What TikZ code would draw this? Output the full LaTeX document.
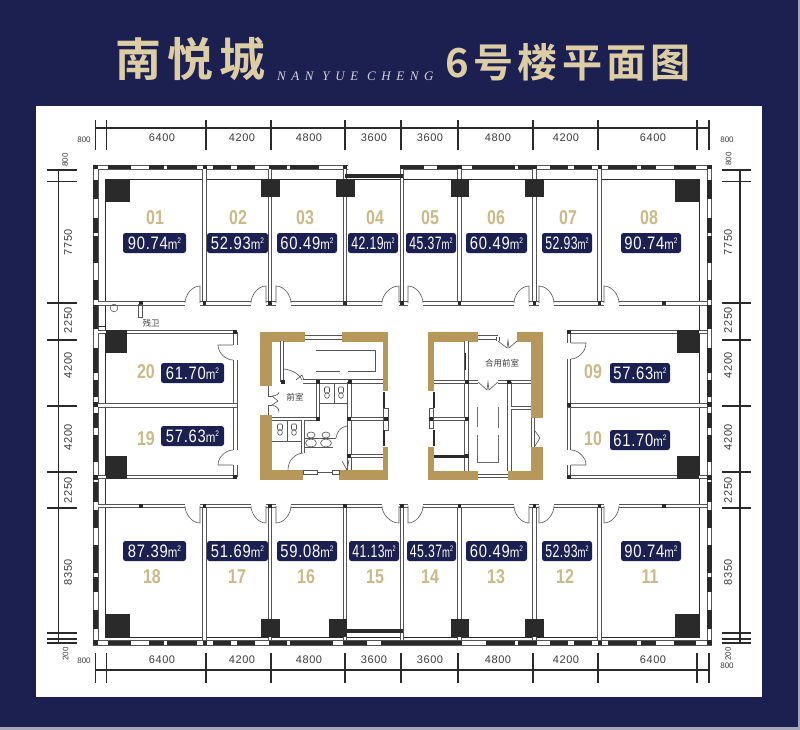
\documentclass[tikz,border=0pt]{standalone}
\usepackage{fontspec}
\setmainfont{Liberation Sans}
\newfontfamily\cjkf{Noto Sans CJK SC}
\newfontfamily\titlea[LetterSpace=13]{Noto Sans CJK SC Bold}
\newfontfamily\titleb[LetterSpace=11]{Noto Sans CJK SC Bold}
\newfontfamily\enf[LetterSpace=43,Ligatures=NoCommon]{Liberation Serif Italic}
\newfontfamily\dimf[LetterSpace=5]{Liberation Sans}
\newfontfamily\areaw[FakeStretch=0.82,LetterSpace=4]{Liberation Sans}
\newfontfamily\arean[FakeStretch=0.68,LetterSpace=2.5]{Liberation Sans}
\newfontfamily\numf[FakeStretch=0.8]{Liberation Sans Bold}
\definecolor{navy}{HTML}{1B2050}
\definecolor{gold}{HTML}{B8985A}
\definecolor{numgold}{HTML}{C9BA88}
\definecolor{titlegold}{HTML}{DCCDA5}
\definecolor{ink}{HTML}{2A2A2A}
\definecolor{wallg}{HTML}{555555}
\definecolor{dimc}{HTML}{3C3C3C}
\tikzset{
  wide/.style={fill=navy,text=white,rounded corners=2.5pt,inner sep=0pt,minimum height=20pt,font=\areaw\fontsize{18}{18}\selectfont},
  narrow/.style={wide,font=\arean\fontsize{18}{18}\selectfont},
  roomnum/.style={text=numgold,inner sep=0pt,font=\numf\fontsize{20}{20}\selectfont},
  dimtext/.style={text=dimc,inner sep=0pt,font=\dimf\fontsize{11}{11}\selectfont},
  smalldim/.style={text=dimc,inner sep=0pt,font=\fontsize{8}{8}\selectfont},
  dimline/.style={draw=ink,line width=1.1pt},
  wallface/.style={draw=wallg,line width=.7pt},
  thin line/.style={draw=wallg,line width=.6pt},
  doorline/.style={draw=wallg,line width=.6pt},
  column/.style={fill=ink,draw=none},
  dot/.style={fill=ink,draw=none},
  goldwall/.style={fill=gold,draw=none},
  blackwall/.style={fill=ink,draw=none},
  plantext/.style={text=dimc,inner sep=0pt,font=\cjkf\fontsize{8.5}{8.5}\selectfont},
}
\newcommand{\areatext}[1]{#1{\fontsize{14}{14}\selectfont m}\raisebox{5.5pt}{\fontsize{8}{8}\selectfont 2}}
% double wall faces: vertical (x, y1, y2) and horizontal (y, x1, x2)
\newcommand{\vwall}[3]{\fill[white] ({#1-1.5},#2) rectangle ({#1+1.5},#3); \draw[wallface] ({#1-1.7},#2)--({#1-1.7},#3) ({#1+1.7},#2)--({#1+1.7},#3);}
\newcommand{\hwall}[3]{\fill[white] (#2,{#1-1.5}) rectangle (#3,{#1+1.5}); \draw[wallface] (#2,{#1-1.7})--(#3,{#1-1.7}) (#2,{#1+1.7})--(#3,{#1+1.7});}
% hinge x, hinge y, arc dx, leaf dy
\newcommand{\doorq}[4]{\draw[doorline] (#1,#2)--(#1,{#2+#4}) .. controls ({#1+0.55*#3},{#2+#4}) and ({#1+#3},{#2+0.45*#4}) .. ({#1+#3},#2);}
% door on a vertical wall: wall x, hinge y, arc dy, leaf dx
\newcommand{\doorv}[4]{\draw[doorline] (#1,#2)--({#1+#4},#2) .. controls ({#1+#4},{#2+0.55*#3}) and ({#1+0.45*#4},{#2+#3}) .. (#1,{#2+#3});}
\newcommand{\pan}[2]{\path[dot] ({#1-1.8},{#2-1.8}) rectangle ({#1+1.8},{#2+1.8});}
\newcommand{\toilet}[2]{\draw[thin line,rounded corners=1pt] ({#1-2.5},{#2-5}) rectangle ({#1+2.5},{#2+1}); \draw[thin line] (#1,{#2+3.5}) ellipse (2.4 and 2.8);}
\begin{document}
\begin{tikzpicture}[x=1pt,y=-1pt]
\useasboundingbox (0,0) rectangle (800,730);
% ground
\fill[navy] (0,0) rectangle (800,730);
\fill[white] (36,106) rectangle (762,697);
\fill[navy!40!white] (0,727) rectangle (800,730);
\fill[navy!40!white] (798,0) rectangle (800,730);
% title
\node[anchor=west,inner sep=0pt,text=titlegold,font=\titlea\fontsize{46}{46}\selectfont] (titlecn) at (115,59) {南悦城};
\node[anchor=west,inner sep=0pt,text=white!80!navy,font=\enf\fontsize{13}{13}\selectfont] (titleen) at (277,76) {NAN YUE CHENG};
\node[anchor=west,inner sep=0pt,text=titlegold,font=\titleb\fontsize{40}{40}\selectfont] (titlemain) at (445,62) {6号楼平面图};
% top and bottom dimensions
\draw[dimline] (95,128)--(709,128);
\draw[dimline] (95.5,670)--(709,670);
\foreach \x in {95.5,106.5,206,271,345,401,458,533,598,697,709}{
  \draw[dimline] (\x,120)--(\x,150);
  \draw[dimline] (\x,653)--(\x,683);
}
\foreach \x/\t in {162/6400,242/4200,309/4800,374/3600,430/3600,498/4800,566/4200,653/6400}{
  \node[dimtext] at (\x,138) {\t};
  \node[dimtext] at (\x,660) {\t};
}
\node[smalldim] (ta) at (84,140) {800};
\node[smalldim] (tb) at (727,140) {800};
\node[smalldim] (ba) at (84,660.5) {800};
\node[smalldim] (bb) at (727,666) {800};
% side dimensions
\draw[dimline] (58.5,170)--(58.5,643);
\draw[dimline] (740,170)--(740,643);
\foreach \y in {170,181.5,303,340,406,472,508,633,639,643}{
  \draw[dimline] (47,\y)--(77,\y);
  \draw[dimline] (722,\y)--(751,\y);
}
\foreach \y/\t in {242/7750,320/2250,365/4200,437/4200,490/2250,572/8350}{
  \node[dimtext,rotate=90] at (68,\y) {\t};
  \node[dimtext,rotate=90] at (728,\y) {\t};
}
\node[smalldim,rotate=90] at (65,160) {800};
\node[smalldim,rotate=90] at (728.5,159) {800};
\node[smalldim,rotate=90] at (65.5,654) {200};
\node[smalldim,rotate=90] at (728,654) {200};
% outer wall band
\draw[thin line] (93.5,165.5) rectangle (711.5,645);
\draw[thin line] (98,169.5) rectangle (707,640.5);
\draw[draw=ink,line width=.7pt] (105.5,179) rectangle (699,637);
\fill[white] (347.5,163.5) rectangle (399.5,171);
\foreach \a/\b in {93/98,108/131,149/164,167/197,203/207,213/231,237/255,269/287,290/319,343/347,400/424,437/462,472/515,518/537,550/568,574/592,598/602,608/637,641/656,674/696,707/712}{
  \path[blackwall] (\a,165) rectangle (\b,168.8);
}
\foreach \a/\b in {93/98,108/131,149/164,167/197,203/207,213/231,237/255,269/287,290/333,343/367,381/462,486/515,518/537,550/568,574/592,598/602,608/637,641/656,674/696,707/712}{
  \path[blackwall] (\a,641) rectangle (\b,645);
}
\foreach \a/\b in {180/199,218/233,236/263,280/300,305/329,348/373,380/397,402/407,413/428,435/462,475/480,482/502,510/528,545/573,577/592,610/629,640/645}{
  \path[blackwall] (93,\a) rectangle (98,\b);
  \path[blackwall] (707,\a) rectangle (712,\b);
}
% partitions
\foreach \x in {204.5,270,345,402,459.5,534.5,599.5}{
  \vwall{\x}{169}{303}
  \vwall{\x}{506}{640}
}
% corridor walls
\foreach \a/\b in {98/185,200/251,266/276,291/382,399/408,423/514,529/539,554/604,619/707}{
  \hwall{303.5}{\a}{\b}
  \hwall{506}{\a}{\b}
}
\foreach \x/\d in {200/-15,266/-15,276/15,399/-17,408/15,529/-15,539/15,604/15}{
  \doorq{\x}{303}{\d}{-17}
  \doorq{\x}{506}{\d}{17}
}
\foreach \x in {141,204.5,270,345,402,459.5,534.5,599.5,664}{
  \pan{\x}{303}
  \pan{\x}{506}
}
% top and bottom solid bars
\path[blackwall] (345,174) rectangle (403,178);
\path[blackwall] (347,629) rectangle (403,633);
% columns
\path[column] (106,179) rectangle (130,202);
\path[column] (675,179) rectangle (699,202);
\foreach \a/\b in {261/280,336/355,451/469,525/544}{\path[column] (\a,179) rectangle (\b,197);}
\path[column] (106,614) rectangle (130,637);
\path[column] (675,614) rectangle (699,637);
\foreach \a/\b in {261/280,329/347,451/469,525/544}{\path[column] (\a,619) rectangle (\b,637);}
% west rooms
\vwall{235.5}{332}{345}
\vwall{235.5}{360}{450}
\vwall{235.5}{465}{477}
\hwall{332}{98}{237.2}
\hwall{405.5}{98}{237.2}
\hwall{477}{98}{237.2}
\doorv{233}{345}{15}{-15}
\doorv{233}{465}{-15}{-15}
\path[column] (106,330) rectangle (127,353);
\path[column] (106,456) rectangle (127,479);
\pan{235}{332} \pan{235}{477} \pan{96}{405}
% east rooms
\vwall{569}{332}{343}
\vwall{569}{359}{450}
\vwall{569}{465}{477}
\hwall{332}{567.3}{707}
\hwall{405.5}{567.3}{707}
\hwall{477}{567.3}{707}
\doorv{571}{343}{16}{15}
\doorv{571}{465}{-15}{15}
\path[column] (677,330) rectangle (699,353);
\path[column] (677,456) rectangle (699,479);
\pan{569}{332} \pan{569}{477} \pan{569}{405} \pan{709}{405}
% small washroom in corridor
\pan{141}{303}
\draw[thin line] (138.5,304) rectangle (142.5,317);
\draw[thin line] (114,308) circle (3.8);
\path[blackwall] (98,325.5) rectangle (106,327);
\node[plantext] (canwei) at (151,323) {残卫};
% west core: gold walls
\path[goldwall] (260,332) rectangle (305,341.5);
\path[goldwall] (260,332) rectangle (272,386);
\path[goldwall] (342,332) rectangle (388,341.5);
\path[goldwall] (383,332) rectangle (388,391);
\path[goldwall] (260,415) rectangle (272,480);
\path[goldwall] (260,470) rectangle (303,480);
\path[goldwall] (339,470) rectangle (388,480);
\path[goldwall] (383,447) rectangle (388,480);
% west core: interior
\hwall{337.5}{305}{342}
\vwall{282}{341}{382}
\hwall{381.5}{303}{383}
\vwall{318}{382}{419}
\hwall{419}{272}{320}
\vwall{349.5}{382}{470}
\hwall{419}{349.5}{383}
\hwall{456}{349.5}{383}
\draw[thin line] (316,350)--(375,350)--(375,371)--(348,371) (340,371)--(316,371);
\draw[thin line] (284,369) .. controls (293,370) and (300,375) .. (302,380);
\draw[thin line] (296,380)--(302,375)--(304,380);
\draw[thin line] (268,386)--(268,396)--(272,396) (268,415)--(268,405)--(272,405);
\draw[thin line] (272,396) .. controls (276,396) and (279,394) .. (279,392) (272,396)--(278,401)--(272,405) (272,405) .. controls (276,406) and (279,408) .. (279,412);
\draw[thin line] (320,403)--(348,403) (334.5,383)--(334.5,403);
\draw[thin line] (272,441)--(303,441) (287,421)--(287,441);
\toilet{327}{392}\toilet{341}{392}\toilet{280}{429}\toilet{294}{429}
\vwall{303}{420}{453}
\draw[thin line] (305,438)--(336,438) (305,447)--(333,447);
\draw[thin line] (311,435) ellipse (4 and 3);
\draw[thin line] (326,435) ellipse (4 and 3);
\draw[thin line] (311,443) ellipse (5.5 and 4);
\draw[thin line] (326,443) ellipse (5.5 and 4);
\draw[thin line] (347,426) .. controls (340,427) and (337,432) .. (336,438);
\draw[thin line] (303,453) .. controls (294,454) and (288,461) .. (288,470);
\draw[thin line] (342,461)--(347,470)--(349,460);
\draw[thin line] (303,470) rectangle (317,474) (332,470) rectangle (339,474) (317,472)--(332,472);
\draw[thin line] (383.5,408) rectangle (388,430);
\path[blackwall] (383,392) rectangle (385,408);
\path[blackwall] (383,430) rectangle (385,446);
\foreach \x/\y in {283/382,318/382,350/382,318/419,349/419,386/419,349/456}{\pan{\x}{\y}}
\node[plantext] (qianshi) at (295,397) {前室};
% east core: gold walls
\path[goldwall] (428,332) rectangle (478,341.5);
\path[goldwall] (428,332) rectangle (434,391);
\path[goldwall] (517,332) rectangle (543,341.5);
\path[goldwall] (531,332) rectangle (543,418);
\path[goldwall] (531,447) rectangle (543,480);
\path[goldwall] (508,471) rectangle (543,480);
\path[goldwall] (428,471) rectangle (478,480);
\path[goldwall] (428,447) rectangle (434,480);
% east core: interior
\vwall{466.5}{341}{471}
\hwall{382}{434}{465}
\hwall{419}{434}{465}
\path[blackwall] (434,455) rectangle (467,457.5);
\path[blackwall] (464.5,353) rectangle (466,370);
\hwall{382}{468}{478}
\hwall{382}{498}{531}
\vwall{509.5}{382}{471}
\hwall{408}{511}{531}
\hwall{337.5}{478}{498}
\vwall{498}{337}{341}
\hwall{476}{478}{508}
\draw[thin line] (498,341)--(507,348)--(508,340)--(509,348)--(517,341);
\draw[thin line] (478,382)--(487,390)--(488,382)--(489,390)--(498,382);
\draw[draw=ink!70,line width=.8pt] (477,407)--(477,427) (498,407)--(498,428) (477,435)--(477,462)--(498,462)--(498,435);
\draw[thin line] (429,408) rectangle (433.5,428);
\path[blackwall] (432.5,392) rectangle (434.5,408);
\path[blackwall] (432.5,430) rectangle (434.5,446);
\draw[thin line] (531.5,418)--(531.5,447) (534,418)--(534,447);
\draw[thin line] (535,431)--(540,438)--(535,446);
\foreach \x/\y in {467/382,467/419,467/456,509/382,431/419}{\pan{\x}{\y}}
\node[plantext] (heyong) at (502,363) {合用前室};
% room numbers and areas, north row
\foreach \n/\x in {01/155,02/238,03/305,04/375,05/430,06/496,07/568,08/649}{\node[roomnum] at (\x,218) {\n};}
\node[wide,minimum width=63pt] (a01) at (154.5,243) {\areatext{90.74}};
\node[wide,minimum width=61pt] (a02) at (237.5,243) {\areatext{52.93}};
\node[wide,minimum width=60pt] (a03) at (307,243) {\areatext{60.49}};
\node[narrow,minimum width=50pt] (a04) at (373,243) {\areatext{42.19}};
\node[narrow,minimum width=50pt] (a05) at (431,243) {\areatext{45.37}};
\node[wide,minimum width=61pt] (a06) at (496.5,243) {\areatext{60.49}};
\node[narrow,minimum width=50pt] (a07) at (567,243) {\areatext{52.93}};
\node[wide,minimum width=60pt] (a08) at (651,243) {\areatext{90.74}};
% west and east rooms
\node[roomnum] at (146,372) {20};
\node[roomnum] at (146,439) {19};
\node[roomnum] at (593,372) {09};
\node[roomnum] at (593,439) {10};
\node[wide,minimum width=63pt] (a20) at (192.5,373) {\areatext{61.70}};
\node[wide,minimum width=63pt] (a19) at (192.5,436) {\areatext{57.63}};
\node[wide,minimum width=60pt] (a09) at (640,373) {\areatext{57.63}};
\node[wide,minimum width=60pt] (a10) at (640,440) {\areatext{61.70}};
% south row
\foreach \n/\x in {18/152,17/237,16/306,15/375,14/430,13/496,12/565,11/650}{\node[roomnum] at (\x,577) {\n};}
\node[wide,minimum width=63pt] (a18) at (154.5,551) {\areatext{87.39}};
\node[wide,minimum width=61pt] (a17) at (237.5,551) {\areatext{51.69}};
\node[wide,minimum width=60pt] (a16) at (307,551) {\areatext{59.08}};
\node[narrow,minimum width=50pt] (a15) at (374,551) {\areatext{41.13}};
\node[narrow,minimum width=49pt] (a14) at (431.5,551) {\areatext{45.37}};
\node[wide,minimum width=61pt] (a13) at (496.5,551) {\areatext{60.49}};
\node[narrow,minimum width=50pt] (a12) at (567,551) {\areatext{52.93}};
\node[wide,minimum width=60pt] (a11) at (651,551) {\areatext{90.74}};
\end{tikzpicture}
\end{document}
